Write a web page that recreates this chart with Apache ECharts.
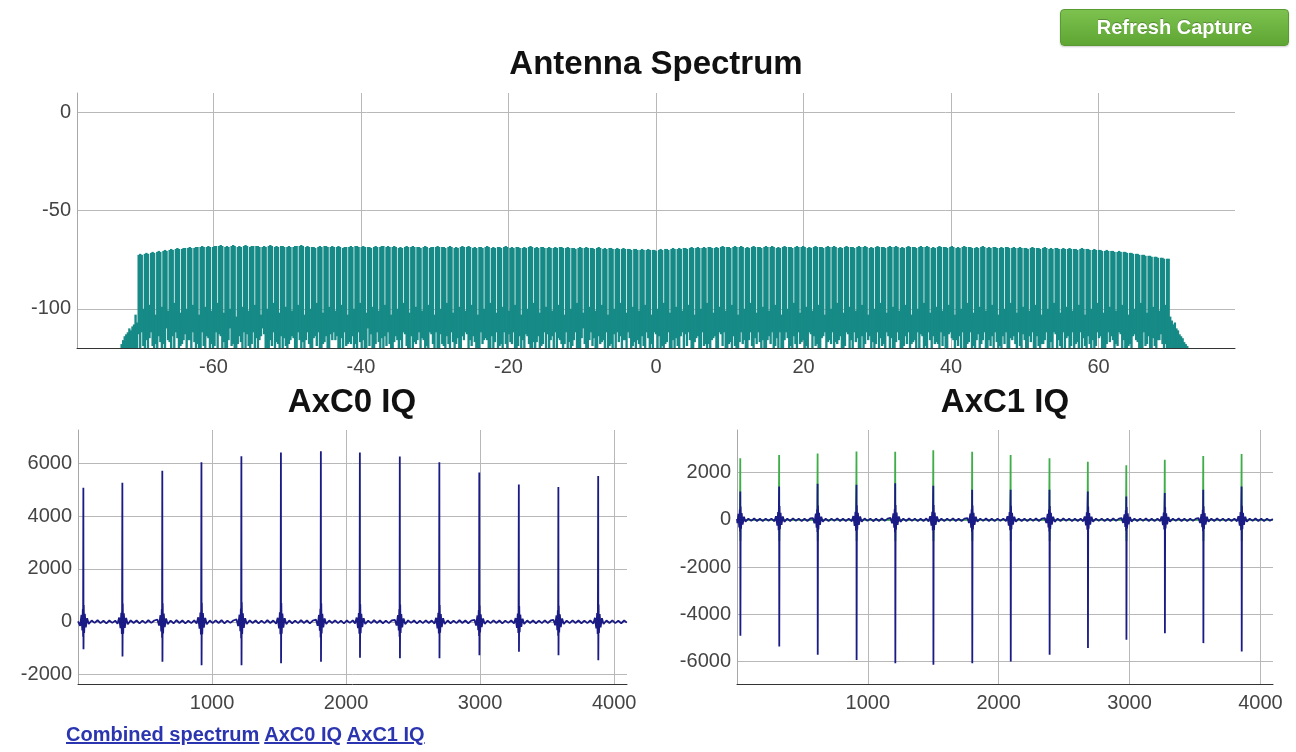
<!DOCTYPE html>
<html><head><meta charset="utf-8">
<script src="https://cdn.jsdelivr.net/npm/echarts@6/dist/echarts.min.js"></script>
<style>
html,body{margin:0;padding:0;background:#fff;width:1296px;height:752px;overflow:hidden;}
#chart{position:absolute;left:0;top:0;width:1296px;height:752px;}
#refresh{position:absolute;left:1060px;top:9px;width:229px;height:37px;box-sizing:border-box;border:1px solid #5a9a33;border-radius:4px;background:linear-gradient(#7dc24f,#5ea533);color:#fff;font:bold 20px "Liberation Sans",Arial,sans-serif;text-align:center;line-height:35px;text-shadow:0 -1px 0 rgba(0,0,0,0.25);box-shadow:0 1px 2px rgba(0,0,0,0.2);}
#links{position:absolute;left:66px;top:723px;font:bold 20px "Liberation Sans",Arial,sans-serif;white-space:nowrap;}
#links a{color:#2b35b0;text-decoration:underline;}
</style></head><body>
<div id="chart"></div>
<div id="refresh">Refresh Capture</div>
<div id="links"><a href="#">Combined spectrum</a> <a href="#">AxC0 IQ</a> <a href="#">AxC1 IQ</a></div>
<script>
// ---- Antenna spectrum (frequency bins, dB) ----
const specStartMHz = -72.66;
const specBinMHz = 0.21;
const specXTicks = [-60, -40, -20, 0, 20, 40, 60];
const specYTicks = [0, -50, -100];
const specTopDb = [
-120,-118,-116,-114,-113,-112,-110,-111,-109,-108,-103,-107,
-72.5,-72,-72.5,-100,-72,-71.5,-72,-98,-71.5,-71,-71.5,-103,-71,-70.5,-71,-99,-70.5,-70,-70.5,-101,-70,-69.5,-70,-97,-69.5,-69,-69.5,-102,-69.5,-69,-69,-100,
-69,-68.5,-69,-98,-69,-68.5,-68.5,-103,-68.5,-68,-68.5,-99,-68.5,-68,-68.5,-101,-68.5,-68,-68,-97,-68,-67.5,-68,-102,-68.5,-68,-68.5,-100,-68,-67.5,-68,-104,
-68.5,-68,-68.5,-99,-68,-67.5,-68,-101,-68.5,-68,-68,-98,-68,-68,-68.5,-103,-68.5,-68,-68.5,-100,-68,-67.5,-68,-97,-68.5,-68,-68.5,-102,-68,-68,-68.5,-99,
-68.5,-68,-68.5,-101,-68.5,-68,-68,-98,-68,-67.5,-68,-103,-68.5,-68,-68.5,-100,-68.5,-68.5,-69,-97,-68.5,-68,-68.5,-102,-68,-68,-68.5,-99,-68.5,-68,-68.5,-101,
-68.5,-68,-68.5,-98,-69,-68.5,-68.5,-103,-68.5,-68,-68.5,-100,-68,-68,-68.5,-97,-68.5,-68,-68.5,-102,-68.5,-68.5,-69,-99,-68.5,-68,-68.5,-101,-68.5,-68,-68,-98,
-68.5,-68,-68.5,-103,-68.5,-68,-68.5,-100,-69,-68.5,-69,-97,-68.5,-68,-68.5,-102,-68.5,-68,-68.5,-99,-68.5,-68.5,-69,-101,-68.5,-68,-68.5,-98,-69,-68.5,-68.5,-103,
-68.5,-68,-68.5,-100,-68.5,-68.5,-69,-97,-68.5,-68,-68.5,-102,-69,-68.5,-69,-99,-68.5,-68,-68.5,-101,-68.5,-68,-68.5,-98,-69,-68.5,-69,-103,-68.5,-68.5,-69,-100,
-68.5,-68,-68.5,-97,-69,-68.5,-69,-102,-68.5,-68.5,-69,-99,-68.5,-68,-68.5,-101,-69,-68.5,-69,-98,-68.5,-68.5,-69,-103,-69,-68.5,-69,-100,-68.5,-68,-68.5,-97,
-69,-68.5,-69,-102,-68.5,-68.5,-69,-99,-69,-68.5,-69,-101,-69,-68.5,-69,-98,-68.5,-68.5,-69,-103,-69,-68.5,-69,-100,-69,-69,-69.5,-97,-69,-68.5,-69,-102,
-69,-68.5,-69,-99,-69,-69,-69.5,-101,-69,-68.5,-69,-98,-69.5,-69,-69.5,-103,-69,-69,-69.5,-100,-69.5,-69,-69.5,-97,-69.5,-69,-69.5,-102,-69.5,-69.5,-70,-99,
-69.5,-69.5,-70,-101,-70,-69.5,-70,-98,-70,-69.5,-70,-103,-70,-70,-70.5,-100,-70,-69.5,-70,-97,-69.5,-69.5,-70,-102,-69.5,-69,-69.5,-99,-69.5,-69,-69.5,-101,
-69,-69,-69.5,-98,-69,-68.5,-69,-103,-69,-68.5,-69,-100,-69,-68.5,-69,-97,-68.5,-68.5,-69,-102,-69,-68.5,-69,-99,-68.5,-68,-68.5,-101,-68.5,-68.5,-69,-98,
-68.5,-68,-68.5,-103,-68.5,-68,-68.5,-100,-69,-68.5,-69,-97,-68.5,-68,-68.5,-102,-68.5,-68.5,-69,-99,-68.5,-68,-68.5,-101,-68.5,-68,-68.5,-98,-69,-68.5,-69,-103,
-68.5,-68,-68.5,-100,-68.5,-68.5,-69,-97,-68.5,-68,-68.5,-102,-68.5,-68,-68.5,-99,-69,-68.5,-69,-101,-68.5,-68,-68.5,-98,-68.5,-68.5,-69,-103,-68.5,-68,-68.5,-100,
-68.5,-68,-68.5,-97,-69,-68.5,-69,-102,-68.5,-68,-68.5,-99,-68.5,-68.5,-69,-101,-68.5,-68,-68.5,-98,-68.5,-68,-68.5,-103,-69,-68.5,-69,-100,-68.5,-68,-68.5,-97,
-68.5,-68.5,-69,-102,-68.5,-68,-68.5,-99,-68.5,-68,-68.5,-101,-69,-68.5,-69,-98,-68.5,-68,-68.5,-103,-68.5,-68.5,-69,-100,-68.5,-68,-68.5,-97,-68.5,-68,-68.5,-102,
-69,-68.5,-69,-99,-68.5,-68,-68.5,-101,-68.5,-68.5,-69,-98,-68.5,-68,-68.5,-103,-69,-68.5,-69,-100,-68.5,-68,-68.5,-97,-68.5,-68.5,-69,-102,-69,-68.5,-69,-99,
-68.5,-68,-68.5,-101,-69,-68.5,-69,-98,-68.5,-68.5,-69,-103,-69,-68.5,-69,-100,-68.5,-68.5,-69,-97,-69,-68.5,-69,-102,-69,-68.5,-69,-99,-69,-69,-69.5,-101,
-69,-68.5,-69,-98,-69,-69,-69.5,-103,-69,-68.5,-69,-100,-69.5,-69,-69.5,-97,-69,-69,-69.5,-102,-69.5,-69,-69.5,-99,-69.5,-69,-69.5,-101,-69.5,-69.5,-70,-98,
-69.5,-69,-69.5,-103,-69.5,-69.5,-70,-100,-70,-69.5,-70,-97,-70,-70,-70.5,-102,-70.5,-70,-70.5,-99,-70.5,-70.5,-71,-101,-71,-70.5,-71,-98,-71,-71,-71.5,-103,
-71.5,-71.5,-72,-100,-72,-72,-72.5,-97,-72.5,-72.5,-73,-102,-73,-73,-73.5,-99,-73.5,-73.5,-74,-101,-74,-74,-74.5,-98,
-74.5,-74.5,-104,-106,-108,-107,-110,-111,-113,-114,-115,-117,-118,-119,-120
];
const specFloorDb = [
-120,-120,-120,-120,-120,-120,-120,-120,-120,-120,-120,-120,
-113,-120,-112,-119,-120,-116,-120,-115,-112,-119,-120,-118,-120,-114,-117,-120,-118,-120,-110,-116,-117,-120,-114,-120,-112,-115,-120,-119,-118,-116,-113,-120,
-116,-116,-120,-112,-117,-120,-118,-120,-120,-112,-119,-120,-114,-115,-120,-118,-120,-119,-112,-120,-113,-114,-120,-117,-120,-120,-116,-110,-119,-118,-120,-120,
-118,-114,-117,-120,-112,-120,-113,-119,-120,-118,-112,-120,-115,-120,-116,-114,-110,-113,-120,-120,-120,-116,-119,-112,-120,-117,-118,-120,-114,-120,-115,-119,
-120,-118,-116,-114,-115,-120,-120,-112,-116,-120,-117,-120,-116,-112,-118,-120,-120,-115,-114,-119,-112,-120,-120,-118,-117,-114,-120,-120,-113,-116,-112,-116,
-114,-120,-120,-115,-120,-112,-119,-118,-117,-118,-114,-120,-118,-120,-112,-117,-120,-116,-120,-120,-110,-119,-113,-120,-120,-118,-112,-117,-120,-115,-120,-114,
-119,-112,-118,-120,-120,-117,-114,-116,-120,-116,-120,-112,-113,-119,-120,-120,-114,-120,-117,-118,-116,-112,-120,-115,-116,-120,-119,-120,-112,-113,-118,-120,
-112,-120,-120,-113,-118,-119,-120,-114,-118,-120,-112,-117,-120,-118,-115,-120,-120,-114,-116,-112,-113,-120,-116,-119,-114,-117,-120,-120,-120,-112,-118,-116,
-115,-116,-120,-120,-114,-120,-117,-112,-120,-119,-118,-120,-112,-118,-120,-113,-117,-118,-112,-120,-120,-119,-114,-120,-116,-120,-113,-114,-118,-120,-120,-117,
-120,-117,-114,-120,-119,-118,-112,-120,-113,-120,-116,-114,-120,-112,-120,-115,-116,-118,-120,-118,-112,-120,-117,-120,-119,-116,-112,-120,-120,-120,-115,-110,
-118,-120,-120,-116,-112,-119,-115,-120,-120,-114,-118,-117,-116,-120,-112,-120,-119,-118,-120,-113,-120,-112,-117,-114,-120,-116,-116,-120,-112,-115,-120,-119,
-117,-120,-116,-118,-120,-114,-119,-120,-112,-115,-120,-118,-120,-112,-113,-120,-114,-120,-119,-120,-118,-117,-112,-120,-120,-116,-120,-115,-119,-120,-114,-112,
-120,-113,-119,-112,-116,-120,-120,-117,-115,-114,-120,-120,-112,-119,-118,-120,-118,-120,-116,-115,-114,-120,-120,-112,-113,-119,-112,-120,-120,-118,-117,-120,
-114,-119,-120,-120,-117,-112,-118,-116,-120,-120,-116,-112,-119,-120,-115,-118,-112,-117,-120,-116,-120,-120,-116,-114,-118,-112,-120,-119,-115,-120,-112,-120,
-120,-116,-112,-115,-120,-119,-120,-114,-118,-120,-112,-118,-117,-116,-120,-119,-120,-112,-113,-120,-114,-119,-118,-120,-120,-115,-114,-112,-120,-117,-116,-118,
-112,-120,-117,-118,-116,-114,-120,-120,-119,-112,-113,-120,-116,-120,-112,-117,-115,-120,-120,-114,-120,-118,-112,-116,-114,-120,-117,-120,-118,-112,-120,-115,
-119,-118,-120,-112,-114,-120,-115,-120,-120,-117,-112,-116,-120,-120,-119,-114,-118,-112,-120,-118,-117,-116,-120,-112,-120,-113,-114,-120,-119,-120,-112,-116,
-120,-114,-118,-117,-118,-120,-112,-119,-114,-120,-120,-113,-112,-115,-116,-120,-116,-119,-114,-120,-112,-120,-120,-118,-117,-112,-120,-119,-120,-116,-113,-120,
-118,-116,-112,-120,-120,-116,-119,-114,-120,-112,-117,-120,-119,-120,-114,-118,-112,-120,-120,-115,-116,-114,-118,-120,-112,-119,-120,-113,-116,-120,-120,-114,
-117,-112,-120,-120,-114,-119,-120,-118,-118,-116,-112,-120,-120,-117,-120,-112,-113,-120,-116,-119,-120,-112,-120,-115,-114,-120,-119,-112,-120,-118,-117,-120,
-112,-120,-115,-119,-120,-114,-118,-120,-116,-120,-119,-112,-115,-114,-120,-120,-120,-118,-112,-117,-114,-116,-120,-118,-119,-112,-113,-120,-116,-120,-120,-119,
-118,-120,-114,-113,-116,-117,-120,-120,-120,-112,-119,-118,-114,-120,-120,-115,-119,-120,-116,-116,-113,-118,-120,-118,
-120,-120,-120,-120,-120,-120,-120,-120,-120,-120,-120,-120,-120,-120,-120
];

// ---- IQ captures: [sample index, amplitude] ----
const iqXTicks = [1000, 2000, 3000, 4000];
const axc0YTicks = [-2000, 0, 2000, 4000, 6000];
const axc1YTicks = [-6000, -4000, -2000, 0, 2000];
const axc0IQ = [
[0,20],[4,90],[16,-150],[26,260],[32,-330],[36,480],[38,-560],[40,5070],[41,-1040],[43,640],[46,-420],[51,300],[58,-210],[68,140],[80,-80],[102,50],[124,-40],[146,60],[168,-50],[190,40],[212,-60],[234,50],[256,-40],[278,45],
[295,-70],[307,160],[317,-240],[323,340],[327,-460],[329,520],[331,5260],[332,-1310],[334,690],[337,-450],[342,320],[349,-230],[359,150],[371,-90],[393,55],[415,-45],[437,50],[459,-60],[481,45],[503,-50],[525,60],[547,-40],[569,50],
[593,80],[605,-140],[615,250],[621,-360],[625,470],[627,-600],[629,5710],[630,-1510],[632,700],[635,-440],[640,310],[647,-200],[657,130],[669,-85],[691,45],[713,-55],[735,60],[757,-45],[779,50],[801,-60],[823,40],[845,-50],[867,55],
[885,-60],[897,170],[907,-260],[913,350],[917,-480],[919,560],[921,6030],[922,-1640],[924,720],[927,-470],[932,330],[939,-220],[949,150],[961,-90],[983,50],[1005,-50],[1027,55],[1049,-45],[1071,60],[1093,-55],[1115,45],[1137,-40],[1159,50],
[1183,90],[1195,-160],[1205,270],[1211,-350],[1215,500],[1217,-620],[1219,6260],[1220,-1640],[1222,740],[1225,-460],[1230,320],[1237,-230],[1247,140],[1259,-80],[1281,55],[1303,-45],[1325,50],[1347,-60],[1369,45],[1391,-50],[1413,60],[1435,-45],[1457,50],
[1478,-70],[1490,150],[1500,-250],[1506,360],[1510,-470],[1512,580],[1514,6400],[1515,-1570],[1517,710],[1520,-450],[1525,310],[1532,-220],[1542,140],[1554,-85],[1576,50],[1598,-55],[1620,45],[1642,-50],[1664,60],[1686,-45],[1708,50],[1730,-60],[1752,45],
[1776,80],[1788,-150],[1798,260],[1804,-340],[1808,490],[1810,-590],[1812,6450],[1813,-1510],[1815,700],[1818,-440],[1823,300],[1830,-210],[1840,130],[1852,-80],[1874,50],[1896,-45],[1918,55],[1940,-50],[1962,45],[1984,-60],[2006,50],[2028,-40],[2050,55],
[2067,-60],[2079,160],[2089,-240],[2095,330],[2099,-450],[2101,540],[2103,6400],[2104,-1360],[2106,660],[2109,-430],[2114,300],[2121,-200],[2131,140],[2143,-80],[2165,45],[2187,-50],[2209,60],[2231,-45],[2253,50],[2275,-55],[2297,45],[2319,-50],[2341,50],
[2365,70],[2377,-140],[2387,250],[2393,-330],[2397,470],[2399,-560],[2401,6250],[2402,-1380],[2404,650],[2407,-420],[2412,290],[2419,-210],[2429,130],[2441,-85],[2463,55],[2485,-40],[2507,50],[2529,-60],[2551,45],[2573,-50],[2595,55],[2617,-45],[2639,50],
[2660,-65],[2672,150],[2682,-250],[2688,340],[2692,-440],[2694,520],[2696,6030],[2697,-1380],[2699,640],[2702,-410],[2707,290],[2714,-200],[2724,140],[2736,-80],[2758,50],[2780,-55],[2802,45],[2824,-50],[2846,60],[2868,-45],[2890,50],[2912,-55],[2934,45],
[2958,75],[2970,-140],[2980,240],[2986,-320],[2990,450],[2992,-540],[2994,5640],[2995,-1260],[2997,620],[3000,-400],[3005,280],[3012,-200],[3022,130],[3034,-75],[3056,45],[3078,-50],[3100,55],[3122,-45],[3144,50],[3166,-60],[3188,45],[3210,-40],[3232,50],
[3253,-60],[3265,140],[3275,-230],[3281,310],[3285,-420],[3287,490],[3289,5190],[3290,-1130],[3292,600],[3295,-390],[3300,270],[3307,-190],[3317,120],[3329,-80],[3351,50],[3373,-45],[3395,50],[3417,-55],[3439,45],[3461,-50],[3483,55],[3505,-45],[3527,50],
[3548,70],[3560,-130],[3570,240],[3576,-320],[3580,440],[3582,-530],[3584,5100],[3585,-1260],[3587,610],[3590,-400],[3595,280],[3602,-200],[3612,130],[3624,-80],[3646,45],[3668,-50],[3690,55],[3712,-45],[3734,50],[3756,-55],[3778,45],[3800,-50],[3822,50],
[3845,-65],[3857,150],[3867,-250],[3873,330],[3877,-460],[3879,540],[3881,5510],[3882,-1450],[3884,650],[3887,-420],[3892,290],[3899,-210],[3909,140],[3921,-80],[3943,50],[3965,-45],[3987,55],[4009,-50],[4031,45],[4053,-55],[4075,50],[4095,-30]
];
const axc1Green = [
[0,0],
[17,0],[23,350],[25,2600],[26,-900],[28,200],[33,0],
[314,0],[320,350],[322,2740],[323,-900],[325,200],[330,0],
[608,0],[614,350],[616,2810],[617,-900],[619,200],[624,0],
[905,0],[911,350],[913,2890],[914,-900],[916,200],[921,0],
[1201,0],[1207,350],[1209,2880],[1210,-900],[1212,200],[1217,0],
[1492,0],[1498,350],[1500,2940],[1501,-900],[1503,200],[1508,0],
[1789,0],[1795,350],[1797,2880],[1798,-900],[1800,200],[1805,0],
[2083,0],[2089,350],[2091,2740],[2092,-900],[2094,200],[2099,0],
[2380,0],[2386,350],[2388,2600],[2389,-900],[2391,200],[2396,0],
[2673,0],[2679,350],[2681,2460],[2682,-900],[2684,200],[2689,0],
[2967,0],[2973,350],[2975,2310],[2976,-900],[2978,200],[2983,0],
[3261,0],[3267,350],[3269,2540],[3270,-900],[3272,200],[3277,0],
[3555,0],[3561,350],[3563,2700],[3564,-900],[3566,200],[3571,0],
[3848,0],[3854,350],[3856,2780],[3857,-900],[3859,200],[3864,0],
[4095,0]
];
const axc1Navy = [
[0,40],[3,-140],[11,250],[17,-320],[21,430],[23,-500],[25,1200],[26,-4910],[28,560],[31,-380],[36,280],[43,-200],[53,130],[65,-80],[87,50],[109,-45],[131,55],[153,-50],[175,45],[197,-55],[219,50],[241,-40],[263,50],
[286,-60],[298,150],[308,-250],[314,330],[318,-440],[320,500],[322,1410],[323,-5360],[325,580],[328,-400],[333,290],[340,-210],[350,140],[362,-85],[384,50],[406,-50],[428,60],[450,-45],[472,50],[494,-55],[516,45],[538,-50],[560,55],
[580,75],[592,-150],[602,260],[608,-330],[612,450],[614,-520],[616,1520],[617,-5710],[619,600],[622,-410],[627,300],[634,-210],[644,130],[656,-80],[678,45],[700,-55],[722,50],[744,-45],[766,60],[788,-50],[810,45],[832,-55],[854,50],
[877,-65],[889,160],[899,-260],[905,340],[909,-460],[911,520],[913,1480],[914,-5930],[916,610],[919,-420],[924,300],[931,-220],[941,140],[953,-80],[975,55],[997,-45],[1019,50],[1041,-60],[1063,45],[1085,-50],[1107,55],[1129,-45],[1151,50],
[1173,80],[1185,-150],[1195,270],[1201,-340],[1205,460],[1207,-530],[1209,1550],[1210,-6070],[1212,620],[1215,-420],[1220,310],[1227,-220],[1237,140],[1249,-85],[1271,50],[1293,-50],[1315,55],[1337,-45],[1359,50],[1381,-55],[1403,45],[1425,-50],[1447,55],
[1464,-70],[1476,150],[1486,-250],[1492,340],[1496,-450],[1498,530],[1500,1440],[1501,-6140],[1503,620],[1506,-430],[1511,310],[1518,-210],[1528,140],[1540,-80],[1562,45],[1584,-55],[1606,50],[1628,-45],[1650,60],[1672,-50],[1694,45],[1716,-50],[1738,50],
[1761,75],[1773,-140],[1783,260],[1789,-330],[1793,450],[1795,-510],[1797,1270],[1798,-6070],[1800,600],[1803,-410],[1808,300],[1815,-210],[1825,130],[1837,-80],[1859,50],[1881,-45],[1903,55],[1925,-50],[1947,45],[1969,-55],[1991,50],[2013,-45],[2035,50],
[2055,-60],[2067,150],[2077,-250],[2083,330],[2087,-440],[2089,500],[2091,1270],[2092,-6000],[2094,590],[2097,-400],[2102,290],[2109,-200],[2119,130],[2131,-80],[2153,50],[2175,-50],[2197,45],[2219,-55],[2241,50],[2263,-45],[2285,55],[2307,-50],[2329,45],
[2352,70],[2364,-140],[2374,250],[2380,-320],[2384,430],[2386,-500],[2388,1270],[2389,-5710],[2391,580],[2394,-390],[2399,290],[2406,-200],[2416,130],[2428,-85],[2450,45],[2472,-50],[2494,55],[2516,-45],[2538,50],[2560,-55],[2582,45],[2604,-50],[2626,50],
[2645,-65],[2657,140],[2667,-240],[2673,320],[2677,-420],[2679,480],[2681,1200],[2682,-5430],[2684,560],[2687,-380],[2692,280],[2699,-200],[2709,130],[2721,-80],[2743,50],[2765,-45],[2787,50],[2809,-55],[2831,45],[2853,-50],[2875,55],[2897,-45],[2919,50],
[2939,70],[2951,-130],[2961,230],[2967,-300],[2971,400],[2973,-460],[2975,990],[2976,-5080],[2978,540],[2981,-370],[2986,270],[2993,-190],[3003,120],[3015,-75],[3037,45],[3059,-50],[3081,50],[3103,-45],[3125,55],[3147,-50],[3169,45],[3191,-55],[3213,50],
[3233,-60],[3245,140],[3255,-230],[3261,310],[3265,-410],[3267,470],[3269,1130],[3270,-4800],[3272,540],[3275,-370],[3280,270],[3287,-190],[3297,120],[3309,-80],[3331,50],[3353,-45],[3375,55],[3397,-50],[3419,45],[3441,-55],[3463,50],[3485,-45],[3507,50],
[3527,70],[3539,-140],[3549,240],[3555,-310],[3559,420],[3561,-490],[3563,1270],[3564,-5220],[3566,570],[3569,-390],[3574,280],[3581,-200],[3591,130],[3603,-80],[3625,45],[3647,-50],[3669,55],[3691,-45],[3713,50],[3735,-55],[3757,45],[3779,-50],[3801,50],
[3820,-65],[3832,150],[3842,-250],[3848,330],[3852,-440],[3854,510],[3856,1410],[3857,-5570],[3859,590],[3862,-400],[3867,290],[3874,-210],[3884,130],[3896,-80],[3918,50],[3940,-45],[3962,55],[3984,-50],[4006,45],[4028,-55],[4050,50],[4072,-45],[4095,30]
];

// ---- build chart ----
const FONT = '"Liberation Sans", Arial, sans-serif';
const nSpec = Math.min(specTopDb.length, specFloorDb.length);
const specRows = [];
for (let i = 0; i < nSpec; i++) {
  specRows.push([specStartMHz + i * specBinMHz, specTopDb[i], specFloorDb[i]]);
}
const labelStyle = {color: '#444', fontSize: 20, fontFamily: FONT};
const plainNum = v => String(v);
const gridLine = {show: true, lineStyle: {color: '#b8b8b8', width: 1}};
function xAx(grid, min, max, ticks) {
  return {type: 'value', gridIndex: grid, min: min, max: max,
    axisLine: {show: true, onZero: false, lineStyle: {color: '#333', width: 1}},
    axisTick: {show: false, customValues: ticks},
    axisLabel: Object.assign({customValues: ticks, margin: 9, formatter: plainNum}, labelStyle),
    splitLine: gridLine};
}
function yAx(grid, min, max, ticks) {
  return {type: 'value', gridIndex: grid, min: min, max: max,
    axisLine: {show: true, onZero: false, lineStyle: {color: '#a8a8a8', width: 1}},
    axisTick: {show: false, customValues: ticks},
    axisLabel: Object.assign({customValues: ticks, margin: 6, formatter: plainNum}, labelStyle),
    splitLine: gridLine};
}
const titleText = (txt, x, y, size) => ({text: txt, left: x, top: y, padding: 0,
  textAlign: 'center', textVerticalAlign: 'middle',
  textStyle: {fontSize: size, fontWeight: 'bold', color: '#111', fontFamily: FONT}});

function renderSpecBin(params, api) {
  const f = api.value(0);
  const a = api.coord([f - specBinMHz / 2, api.value(1)]);
  const b = api.coord([f + specBinMHz / 2, api.value(2)]);
  return {type: 'rect',
    shape: {x: a[0] - 0.4, y: a[1], width: b[0] - a[0] + 0.8, height: Math.max(0, b[1] - a[1])},
    style: {fill: '#168a86'}};
}

const chart = echarts.init(document.getElementById('chart'), null, {renderer: 'canvas'});
chart.setOption({
  animation: false,
  backgroundColor: '#fff',
  title: [
    titleText('Antenna Spectrum', 656, 65, 33),
    titleText('AxC0 IQ', 352, 403, 33),
    titleText('AxC1 IQ', 1005, 403, 33)
  ],
  grid: [
    {left: 77, right: 61, top: 93, bottom: 404, containLabel: false, outerBoundsMode: 'none'},
    {left: 78, right: 669, top: 430, bottom: 68, containLabel: false, outerBoundsMode: 'none'},
    {left: 737, right: 23, top: 430, bottom: 68, containLabel: false, outerBoundsMode: 'none'}
  ],
  xAxis: [
    xAx(0, -78.5, 78.5, specXTicks),
    xAx(1, 0, 4096, iqXTicks),
    xAx(2, 0, 4096, iqXTicks)
  ],
  yAxis: [
    yAx(0, -120, 10, specYTicks),
    yAx(1, -2350, 7250, axc0YTicks),
    yAx(2, -6950, 3800, axc1YTicks)
  ],
  series: [
    {type: 'custom', name: 'spectrum', xAxisIndex: 0, yAxisIndex: 0, data: specRows,
     encode: {x: 0, y: [1, 2]}, renderItem: renderSpecBin, clip: true, silent: true, z: 3},
    {type: 'line', name: 'AxC0', xAxisIndex: 1, yAxisIndex: 1, data: axc0IQ, symbol: 'none',
     silent: true, lineStyle: {color: '#1b1b85', width: 1.8}},
    {type: 'line', name: 'AxC1 Q', xAxisIndex: 2, yAxisIndex: 2, data: axc1Green, symbol: 'none',
     silent: true, lineStyle: {color: '#3fae49', width: 1.8}},
    {type: 'line', name: 'AxC1 I', xAxisIndex: 2, yAxisIndex: 2, data: axc1Navy, symbol: 'none',
     silent: true, lineStyle: {color: '#1b1b85', width: 1.8}}
  ]
});
</script>
</body></html>
